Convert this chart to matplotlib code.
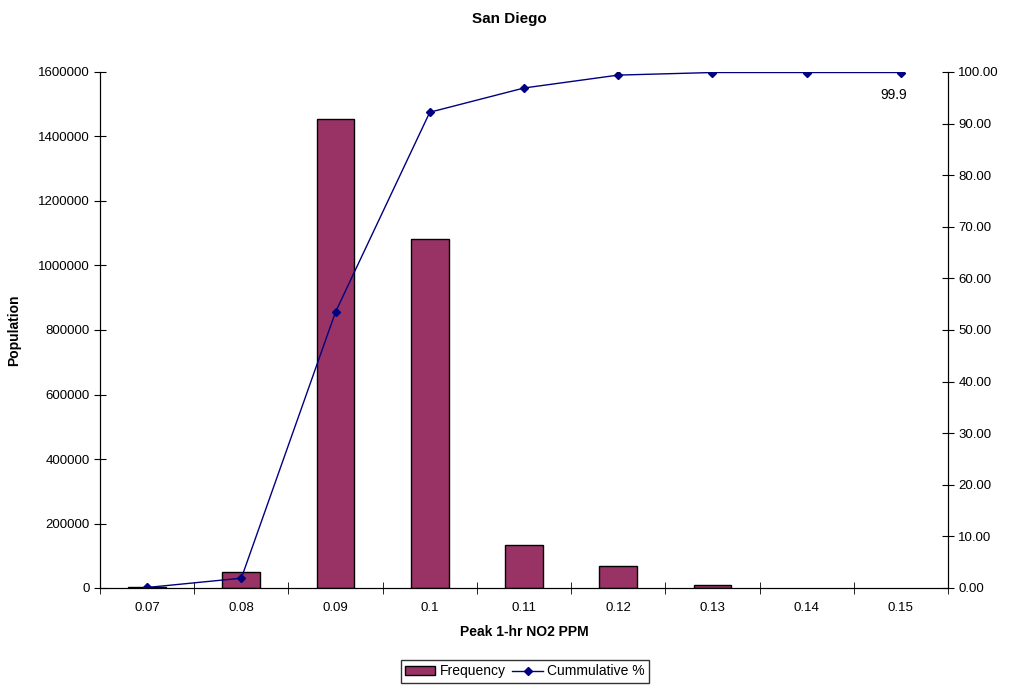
import matplotlib.pyplot as plt
import numpy as np
from matplotlib.ticker import FormatStrFormatter

plt.rcParams['font.family'] = ['Liberation Sans', 'DejaVu Sans']

# data
ppm = ['0.07', '0.08', '0.09', '0.1', '0.11', '0.12', '0.13', '0.14', '0.15']
frequency = [2500, 49000, 1455000, 1082000, 133000, 69000, 9000, 0, 0]
cumulative = [0.1, 1.9, 53.5, 92.2, 96.9, 99.4, 99.9, 99.9, 99.9]

fig = plt.figure(figsize=(10.19, 6.93), dpi=100)
ax = fig.add_axes([100/1019, 1 - 588/693, 848/1019, 516/693])
ax2 = ax.twinx()

x = np.arange(len(ppm))
heights = [f if f > 0 else np.nan for f in frequency]  # empty bins draw nothing
bars = ax.bar(x, heights, width=0.4, color='#993366', edgecolor='black', linewidth=1, label='Frequency')
line, = ax2.plot(x, cumulative, color='#000080', linewidth=1, marker='D', markersize=4.5, label='Cummulative %')
ax2.annotate('99.9', (x[-1], cumulative[-1]), xytext=(-5, -16), textcoords='offset points',
             ha='center', va='center', fontsize=10)

ax.set_xlim(-0.5, len(ppm) - 0.5)
ax.set_ylim(0, 1600000)
ax2.set_ylim(0, 100)
ax.set_yticks(np.arange(0, 1600001, 200000))
ax.yaxis.set_major_formatter(FormatStrFormatter('%d'))
ax2.set_yticks(np.arange(0, 101, 10))
ax2.yaxis.set_major_formatter(FormatStrFormatter('%.2f'))

ax.set_xticks(x)
ax.set_xticklabels(ppm)
ax.set_xticks(np.arange(-0.5, len(ppm), 1), minor=True)
ax.tick_params(axis='x', which='major', length=0, labelsize=9.5, pad=10)
ax.tick_params(axis='x', which='minor', direction='inout', length=8)
ax.tick_params(axis='y', direction='inout', length=8, labelsize=9.5)
ax2.tick_params(axis='y', direction='inout', length=8, labelsize=9.5)

for a in (ax, ax2):
    a.spines['top'].set_visible(False)

ax.set_xlabel('Peak 1-hr NO2 PPM', fontweight='bold', fontsize=10, labelpad=8)
ax.set_ylabel('Population', fontweight='bold', fontsize=10, labelpad=12)
fig.suptitle('San Diego', fontweight='bold', fontsize=11, y=0.983)

fig.legend(handles=[bars, line], loc='lower center', bbox_to_anchor=(0.515, 0.005), ncol=2,
           frameon=True, fancybox=False, edgecolor='black', fontsize=10,
           handlelength=2.2, columnspacing=0.5, handletextpad=0.3, borderpad=0.3)

fig.savefig('out.png', dpi=100)
